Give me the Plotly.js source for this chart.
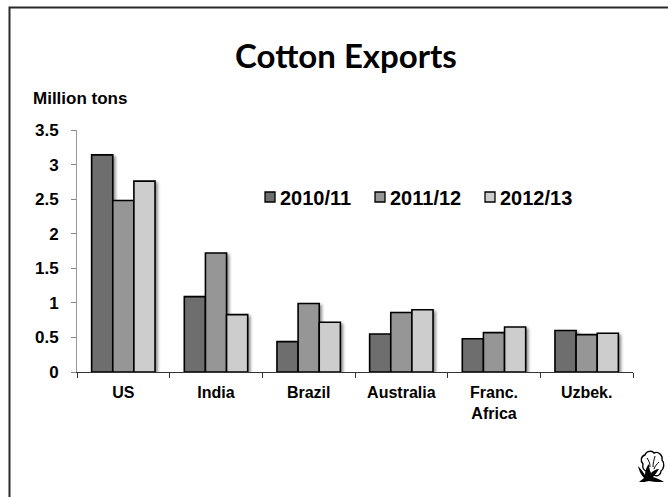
<!DOCTYPE html>
<html>
<head>
<meta charset="utf-8">
<script src="https://cdn.plot.ly/plotly-3.0.1.min.js"></script>
<style>
html,body{margin:0;padding:0;background:#fff;}
#chart{width:668px;height:497px;}
.barlayer .point path{filter:drop-shadow(2px 2px 1.5px rgba(0,0,0,0.45));}
</style>
</head>
<body>
<div id="chart"></div>
<script>
const categories = ["US", "India", "Brazil", "Australia", "Franc.<br>Africa", "Uzbek."];
const seriesNames = ["2010/11", "2011/12", "2012/13"];
const exports2010 = [3.14, 1.09, 0.44, 0.55, 0.48, 0.60];
const exports2011 = [2.48, 1.72, 0.99, 0.86, 0.57, 0.54];
const exports2012 = [2.76, 0.83, 0.72, 0.90, 0.65, 0.56];
const yTickValues = [0, 0.5, 1, 1.5, 2, 2.5, 3, 3.5];
const yTickLabels = ["0", "0.5", "1", "1.5", "2", "2.5", "3", "3.5"];

const seriesValues = [exports2010, exports2011, exports2012];
const seriesColors = ["#6e6e6e", "#969696", "#cdcdcd"];

const traces = seriesValues.map((vals, i) => ({
  type: "bar",
  name: seriesNames[i],
  x: categories,
  y: vals,
  marker: {color: seriesColors[i], line: {color: "#000", width: 1.6}},
  hoverinfo: "skip"
}));

const W = 668, H = 497;
const mL = 77, mR = 35, mT = 130, mB = 125;
const plotW = W - mL - mR, plotH = H - mT - mB;
const px2x = p => (p - mL) / plotW;
const py2y = p => (H - mB - p) / plotH;

const FONT = "Liberation Sans, Arial, sans-serif";

// custom legend (symbol close to text, as in the reference)
const legStart = 265, legStep = 110, legY = 197, sq = 10;
const legendShapes = seriesNames.map((n, i) => ({
  type: "rect", xref: "paper", yref: "paper",
  x0: px2x(legStart + i * legStep), x1: px2x(legStart + i * legStep + sq),
  y0: py2y(legY + sq / 2), y1: py2y(legY - sq / 2),
  fillcolor: seriesColors[i],
  line: {color: "#000", width: 1.3},
  layer: "above"
}));
const legendLabels = seriesNames.map((n, i) => ({
  text: "<b>" + n + "</b>",
  xref: "paper", yref: "paper",
  x: px2x(legStart + i * legStep + sq + 3), xanchor: "left",
  y: py2y(legY + 1), yanchor: "middle",
  showarrow: false,
  font: {size: 20, family: FONT, color: "#000"}
}));

const cottonSvg = 'data:image/svg+xml;utf8,' + encodeURIComponent(
  '<svg xmlns="http://www.w3.org/2000/svg" width="30" height="34" viewBox="0 0 30 34">' +
  '<path d="M7 15 C4 12 5 7 9 6 C10 2 16 1 18 4 C22 2 27 6 26 11 C29 14 28 20 25 22 C25 26 21 28 18 26 C15 28 11 25 11 22 C8 22 6 19 7 15 Z" fill="#fff" stroke="#000" stroke-width="1.4"/>' +
  '<path d="M11 9 C13 12 14 14 14 18 M19 7 C18 11 17 14 17 18 M23 13 C21 15 19 17 18 20" fill="none" stroke="#000" stroke-width="1"/>' +
  '<path d="M2 17 C5 20 7 23 9 26 C9 21 11 17 13 15 C13 19 14 22 15 24 C17 22 20 20 23 20 C21 23 19 26 17 28 C21 29 25 31 28 33 C22 33 17 33 13 32 C10 33 6 33 3 33 C5 31 7 30 8 29 C5 26 3 22 2 17 Z" fill="#000"/>' +
  '</svg>');

const layout = {
  width: W, height: H,
  margin: {l: mL, r: mR, t: mT, b: mB, pad: 0},
  paper_bgcolor: "#fff",
  plot_bgcolor: "#fff",
  font: {family: FONT, color: "#000"},
  title: {
    text: "<b>Cotton Exports</b>",
    font: {family: "Lato, sans-serif", size: 33, color: "#000"},
    xref: "container", x: 346 / W, xanchor: "center",
    yref: "container", y: 1 - 56 / H, yanchor: "middle"
  },
  barmode: "group",
  bargap: 0.316,
  bargroupgap: 0,
  showlegend: false,
  xaxis: {
    type: "category",
    tickson: "boundaries",
    ticks: "outside", ticklen: 5, tickcolor: "#333", tickwidth: 1,
    showline: true, linecolor: "#333", linewidth: 1,
    showgrid: false, zeroline: false,
    tickfont: {size: 16, family: FONT, weight: "bold"},
    ticklabelstandoff: 6,
    fixedrange: true
  },
  yaxis: {
    range: [0, 3.5],
    tickvals: yTickValues, ticktext: yTickLabels,
    ticks: "outside", ticklen: 5, tickcolor: "#888", tickwidth: 1,
    showline: true, linecolor: "#999", linewidth: 1,
    showgrid: false, zeroline: false,
    tickfont: {size: 17, family: FONT, weight: "bold"},
    ticklabelstandoff: 9,
    fixedrange: true
  },
  annotations: [{
    text: "<b>Million tons</b>",
    xref: "paper", yref: "paper",
    x: px2x(31), xanchor: "left",
    y: py2y(98), yanchor: "middle",
    showarrow: false,
    font: {size: 17, family: FONT, color: "#000"}
  }].concat(legendLabels),
  shapes: [{
    type: "rect", xref: "paper", yref: "paper",
    x0: px2x(9.5), x1: px2x(700),
    y0: py2y(530), y1: py2y(7.5),
    line: {color: "#2a2a2a", width: 2},
    fillcolor: "rgba(0,0,0,0)",
    layer: "below"
  }].concat(legendShapes),
  images: [{
    source: cottonSvg,
    xref: "paper", yref: "paper",
    x: px2x(636), y: py2y(449),
    sizex: 30 / plotW, sizey: 34 / plotH,
    xanchor: "left", yanchor: "top",
    sizing: "stretch", layer: "above"
  }]
};

Plotly.newPlot("chart", traces, layout, {displayModeBar: false, staticPlot: true});
</script>
</body>
</html>
